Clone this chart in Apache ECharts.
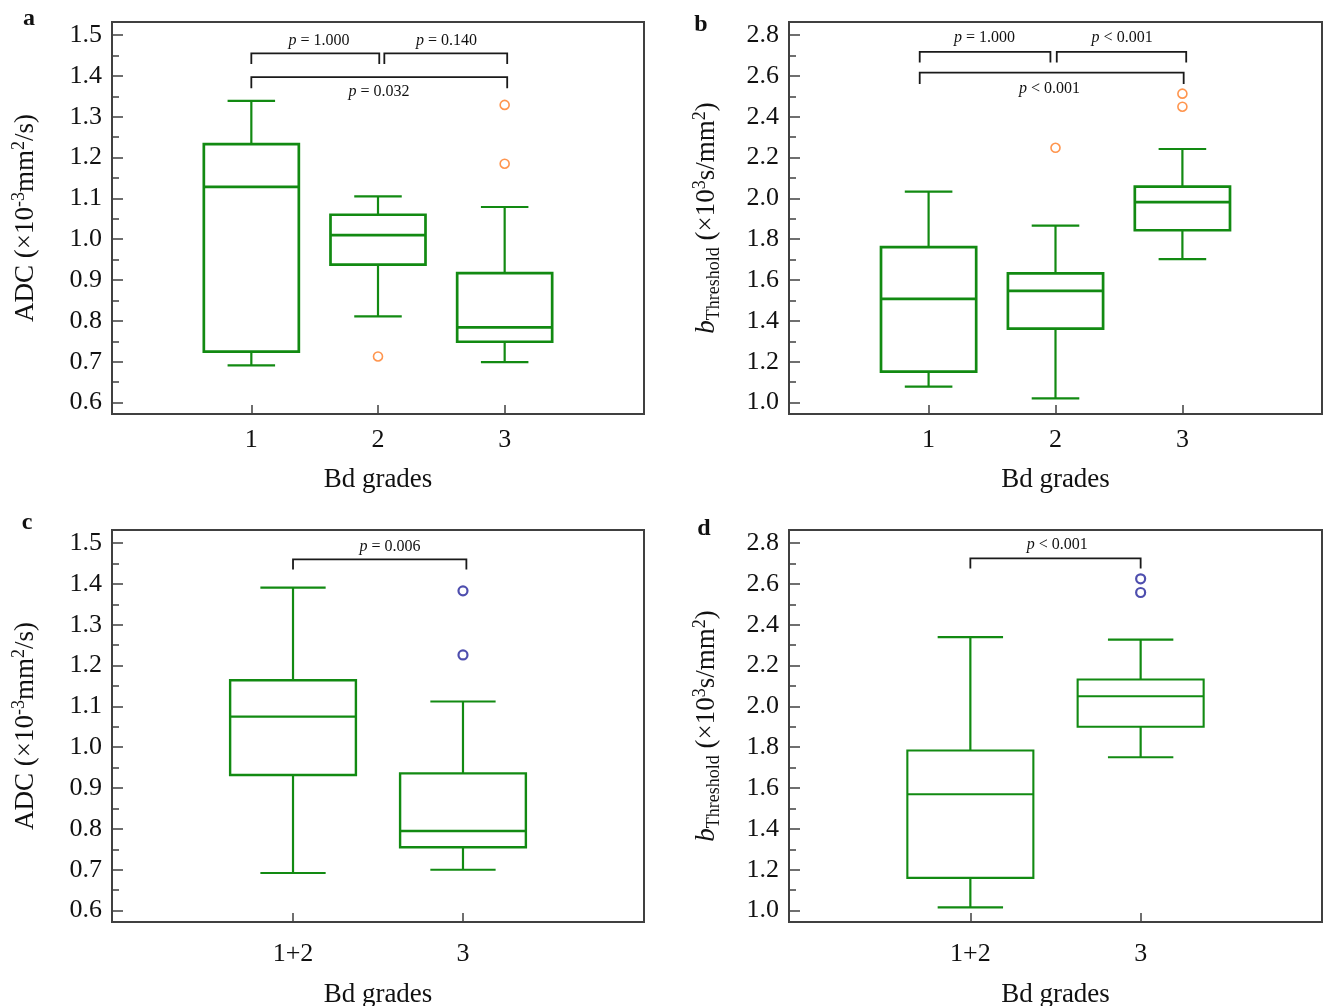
<!DOCTYPE html>
<html>
<head>
<meta charset="utf-8">
<script src="https://cdn.jsdelivr.net/npm/echarts@6/dist/echarts.min.js"></script>
<style>
  html, body { margin: 0; padding: 0; background: #fff; }
  #chart { width: 1323px; height: 1006px; }
</style>
</head>
<body>
<div id="chart"></div>
<script>
// categories
const gradesThree = ['1', '2', '3'];
const gradesMerged = ['1+2', '3'];

// box values: [min, Q1, median, Q3, max]
const adcByGrade = [
  [0.691, 0.725, 1.128, 1.233, 1.339],
  [0.811, 0.938, 1.010, 1.060, 1.105],
  [0.699, 0.749, 0.784, 0.917, 1.079]
];
const bThrByGrade = [
  [1.078, 1.152, 1.508, 1.761, 2.033],
  [1.021, 1.362, 1.547, 1.633, 1.867],
  [1.703, 1.844, 1.982, 2.058, 2.242]
];
const adcMerged = [
  [0.692, 0.932, 1.075, 1.164, 1.391],
  [0.700, 0.755, 0.795, 0.936, 1.112]
];
const bThrMerged = [
  [1.016, 1.160, 1.570, 1.784, 2.339],
  [1.751, 1.900, 2.050, 2.132, 2.327]
];

// outliers: [category position, value]
const adcByGradeOut = [[2, 0.713], [3, 1.185], [3, 1.329]];
const bThrByGradeOut = [[2, 2.248], [3, 2.449], [3, 2.513]];
const adcMergedOut = [[2, 1.226], [2, 1.383]];
const bThrMergedOut = [[2, 2.558], [2, 2.625]];

// tick labels
const adcTicks = [0.6, 0.7, 0.8, 0.9, 1.0, 1.1, 1.2, 1.3, 1.4, 1.5];
const adcMinor = [0.65, 0.75, 0.85, 0.95, 1.05, 1.15, 1.25, 1.35, 1.45];
const bThrTicks = [1.0, 1.2, 1.4, 1.6, 1.8, 2.0, 2.2, 2.4, 2.6, 2.8];
const bThrMinor = [1.1, 1.3, 1.5, 1.7, 1.9, 2.1, 2.3, 2.5, 2.7];

// significance annotations
const pTextA = ['p = 1.000', 'p = 0.140', 'p = 0.032'];
const pTextB = ['p = 1.000', 'p < 0.001', 'p < 0.001'];
const pTextC = ['p = 0.006'];
const pTextD = ['p < 0.001'];
// brackets: [x1, x2, yBar, yLegEnd]
const bracketA = [[1.0, 2.01, 1.455, 1.429], [2.05, 3.02, 1.455, 1.429], [1.0, 3.02, 1.397, 1.370]];
const bracketB = [[0.93, 1.96, 2.718, 2.666], [2.01, 3.03, 2.718, 2.666], [0.93, 3.01, 2.616, 2.560]];
const bracketC = [[1.0, 2.02, 1.460, 1.435]];
const bracketD = [[1.0, 2.0, 2.725, 2.675]];
const pPosA = [[1.535, 1.486], [2.54, 1.486], [2.008, 1.361]];
const pPosB = [[1.44, 2.789], [2.525, 2.789], [1.953, 2.539]];
const pPosC = [[1.57, 1.492]];
const pPosD = [[1.51, 2.792]];

const SERIF = '"Liberation Serif", "Times New Roman", serif';
const GREEN = '#128a12';
const ORANGE = '#ff7a22';
const NAVY = '#22229a';
const FRAME = '#404040';
const INK = '#111';

var chart = echarts.init(document.getElementById('chart'));

function boxRender(boxW, capW, boxLw, whiskLw) {
  return function (params, api) {
    var x = api.value(0);
    var lo = api.coord([x, api.value(1)]);
    var q1 = api.coord([x, api.value(2)]);
    var md = api.coord([x, api.value(3)]);
    var q3 = api.coord([x, api.value(4)]);
    var hi = api.coord([x, api.value(5)]);
    var bw = api.size([boxW, 0])[0];
    var cw = api.size([capW, 0])[0];
    var cx = lo[0];
    var ws = { stroke: GREEN, lineWidth: whiskLw, fill: null };
    var bs = { stroke: GREEN, lineWidth: boxLw, fill: null };
    return {
      type: 'group',
      children: [
        { type: 'line', shape: { x1: cx, y1: hi[1], x2: cx, y2: q3[1] }, style: ws },
        { type: 'line', shape: { x1: cx, y1: q1[1], x2: cx, y2: lo[1] }, style: ws },
        { type: 'line', shape: { x1: cx - cw / 2, y1: hi[1], x2: cx + cw / 2, y2: hi[1] }, style: ws },
        { type: 'line', shape: { x1: cx - cw / 2, y1: lo[1], x2: cx + cw / 2, y2: lo[1] }, style: ws },
        { type: 'rect', shape: { x: cx - bw / 2, y: q3[1], width: bw, height: q1[1] - q3[1] }, style: bs },
        { type: 'line', shape: { x1: cx - bw / 2, y1: md[1], x2: cx + bw / 2, y2: md[1] }, style: bs }
      ]
    };
  };
}

function bracketRender(params, api) {
  var a = api.coord([api.value(0), api.value(3)]);
  var b = api.coord([api.value(0), api.value(2)]);
  var c = api.coord([api.value(1), api.value(2)]);
  var d = api.coord([api.value(1), api.value(3)]);
  return {
    type: 'polyline',
    shape: { points: [a, b, c, d] },
    style: { stroke: '#1a1a1a', lineWidth: 1.8, fill: null }
  };
}

function pRender(texts) {
  return function (params, api) {
    var pt = api.coord([api.value(0), api.value(1)]);
    var t = texts[params.dataIndex];
    return {
      type: 'text',
      x: pt[0], y: pt[1],
      style: {
        text: '{i|' + t.charAt(0) + '}' + t.slice(1),
        fontFamily: SERIF, fontSize: 16, fill: INK,
        align: 'center', verticalAlign: 'middle',
        rich: { i: { fontStyle: 'italic', fontFamily: SERIF, fontSize: 16, fill: INK } }
      }
    };
  };
}

var grids = [
  { left: 112, top: 22, width: 532, height: 392 },
  { left: 789, top: 22, width: 533, height: 392 },
  { left: 112, top: 530, width: 532, height: 392 },
  { left: 789, top: 530, width: 533, height: 392 }
].map(function (g) {
  return Object.assign({
    show: true, borderColor: FRAME, borderWidth: 2, backgroundColor: '#fff',
    containLabel: false, outerBoundsMode: 'none'
  }, g);
});

function xAxisFor(gi, cats, min, max, margin, gap) {
  var pos = cats.map(function (c, i) { return i + 1; });
  return {
    type: 'value', gridIndex: gi, min: min, max: max,
    name: 'Bd grades', nameLocation: 'middle', nameGap: gap,
    nameTextStyle: { fontFamily: SERIF, fontSize: 27, color: INK },
    splitLine: { show: false },
    axisLine: { show: true, onZero: false, lineStyle: { color: FRAME, width: 2 } },
    axisTick: { show: true, inside: true, length: 9, customValues: pos, lineStyle: { color: FRAME, width: 1.5 } },
    axisLabel: {
      customValues: pos, margin: margin, fontFamily: SERIF, fontSize: 26, color: INK,
      formatter: function (v) { return cats[Math.round(v) - 1]; }
    }
  };
}

var nameAdc = '{n|ADC (×10}{sup|-3}{n|mm}{sup|2}{n|/s)}';
var nameB = '{i|b}{sub|Threshold}{n| (×10}{sup|3}{n|s/mm}{sup|2}{n|)}';
var nameRich = {
  n: { fontFamily: SERIF, fontSize: 27, color: INK, lineHeight: 32 },
  i: { fontFamily: SERIF, fontSize: 27, color: INK, lineHeight: 32, fontStyle: 'italic' },
  sup: { fontFamily: SERIF, fontSize: 18, color: INK, lineHeight: 14, verticalAlign: 'top' },
  sub: { fontFamily: SERIF, fontSize: 18, color: INK, lineHeight: 16, verticalAlign: 'bottom' }
};

function yAxesFor(gi, ticks, minor, min, max, name, gap) {
  return [{
    type: 'value', gridIndex: gi, min: min, max: max, position: 'left',
    name: name, nameLocation: 'middle', nameRotate: 90, nameGap: gap,
    nameTextStyle: { rich: nameRich },
    splitLine: { show: false },
    axisLine: { show: true, onZero: false, lineStyle: { color: FRAME, width: 2 } },
    axisTick: { show: true, inside: true, length: 11, customValues: ticks, lineStyle: { color: FRAME, width: 1.5 } },
    axisLabel: {
      customValues: ticks, margin: 10, fontFamily: SERIF, fontSize: 26, color: INK,
      formatter: function (v) { return v.toFixed(1); }
    }
  }, {
    type: 'value', gridIndex: gi, min: min, max: max, position: 'left',
    splitLine: { show: false },
    axisLine: { show: false, onZero: false },
    axisLabel: { show: false },
    axisTick: { show: true, inside: true, length: 7, customValues: minor, lineStyle: { color: FRAME, width: 1.5 } }
  }];
}

var adcMin = 0.572, adcMax = 1.532, bMin = 0.944, bMax = 2.864;

var xAxes = [
  xAxisFor(0, gradesThree, -0.1, 4.1, 13, 52),
  xAxisFor(1, gradesThree, -0.1, 4.1, 13, 52),
  xAxisFor(2, gradesMerged, -0.065, 3.065, 19, 59),
  xAxisFor(3, gradesMerged, -0.065, 3.065, 19, 59)
];
var yAxes = [].concat(
  yAxesFor(0, adcTicks, adcMinor, adcMin, adcMax, nameAdc, 70),
  yAxesFor(1, bThrTicks, bThrMinor, bMin, bMax, nameB, 66),
  yAxesFor(2, adcTicks, adcMinor, adcMin, adcMax, nameAdc, 70),
  yAxesFor(3, bThrTicks, bThrMinor, bMin, bMax, nameB, 66)
);

function boxData(rows) {
  return rows.map(function (r, i) { return [i + 1].concat(r); });
}

var panels = [
  { boxes: adcByGrade, out: adcByGradeOut, outColor: ORANGE, br: bracketA, pPos: pPosA, pText: pTextA, boxW: 0.75, capW: 0.375, lw: 2.7 },
  { boxes: bThrByGrade, out: bThrByGradeOut, outColor: ORANGE, br: bracketB, pPos: pPosB, pText: pTextB, boxW: 0.75, capW: 0.375, lw: 2.7 },
  { boxes: adcMerged, out: adcMergedOut, outColor: NAVY, br: bracketC, pPos: pPosC, pText: pTextC, boxW: 0.74, capW: 0.384, lw: 2.4 },
  { boxes: bThrMerged, out: bThrMergedOut, outColor: NAVY, br: bracketD, pPos: pPosD, pText: pTextD, boxW: 0.74, capW: 0.384, lw: 2.1 }
];

var series = [];
panels.forEach(function (p, gi) {
  var xi = gi, yi = gi * 2;
  series.push({
    type: 'custom', xAxisIndex: xi, yAxisIndex: yi,
    renderItem: boxRender(p.boxW, p.capW, p.lw, 2.2),
    encode: { x: 0, y: [1, 2, 3, 4, 5] },
    data: boxData(p.boxes)
  });
  series.push({
    type: 'scatter', xAxisIndex: xi, yAxisIndex: yi,
    symbol: 'circle', symbolSize: 9,
    itemStyle: { color: '#fff', borderColor: p.outColor, borderWidth: gi < 2 ? 1.6 : 2.2 },
    data: p.out
  });
  series.push({
    type: 'custom', xAxisIndex: xi, yAxisIndex: yi,
    renderItem: bracketRender,
    encode: { x: [0, 1], y: [2, 3] },
    data: p.br
  });
  series.push({
    type: 'custom', xAxisIndex: xi, yAxisIndex: yi,
    renderItem: pRender(p.pText),
    encode: { x: 0, y: 1 },
    data: p.pPos
  });
});

function panelLetter(t, x, y) {
  return {
    type: 'text', x: x, y: y,
    style: { text: t, fontFamily: SERIF, fontSize: 24, fontWeight: 'bold', fill: INK, align: 'center', verticalAlign: 'bottom' }
  };
}

option = {
  animation: false,
  backgroundColor: '#fff',
  grid: grids,
  xAxis: xAxes,
  yAxis: yAxes,
  series: series,
  graphic: [
    panelLetter('a', 29, 31),
    panelLetter('b', 701, 37),
    panelLetter('c', 27, 535),
    panelLetter('d', 704, 541)
  ]
};

chart.setOption(option);
</script>
</body>
</html>
